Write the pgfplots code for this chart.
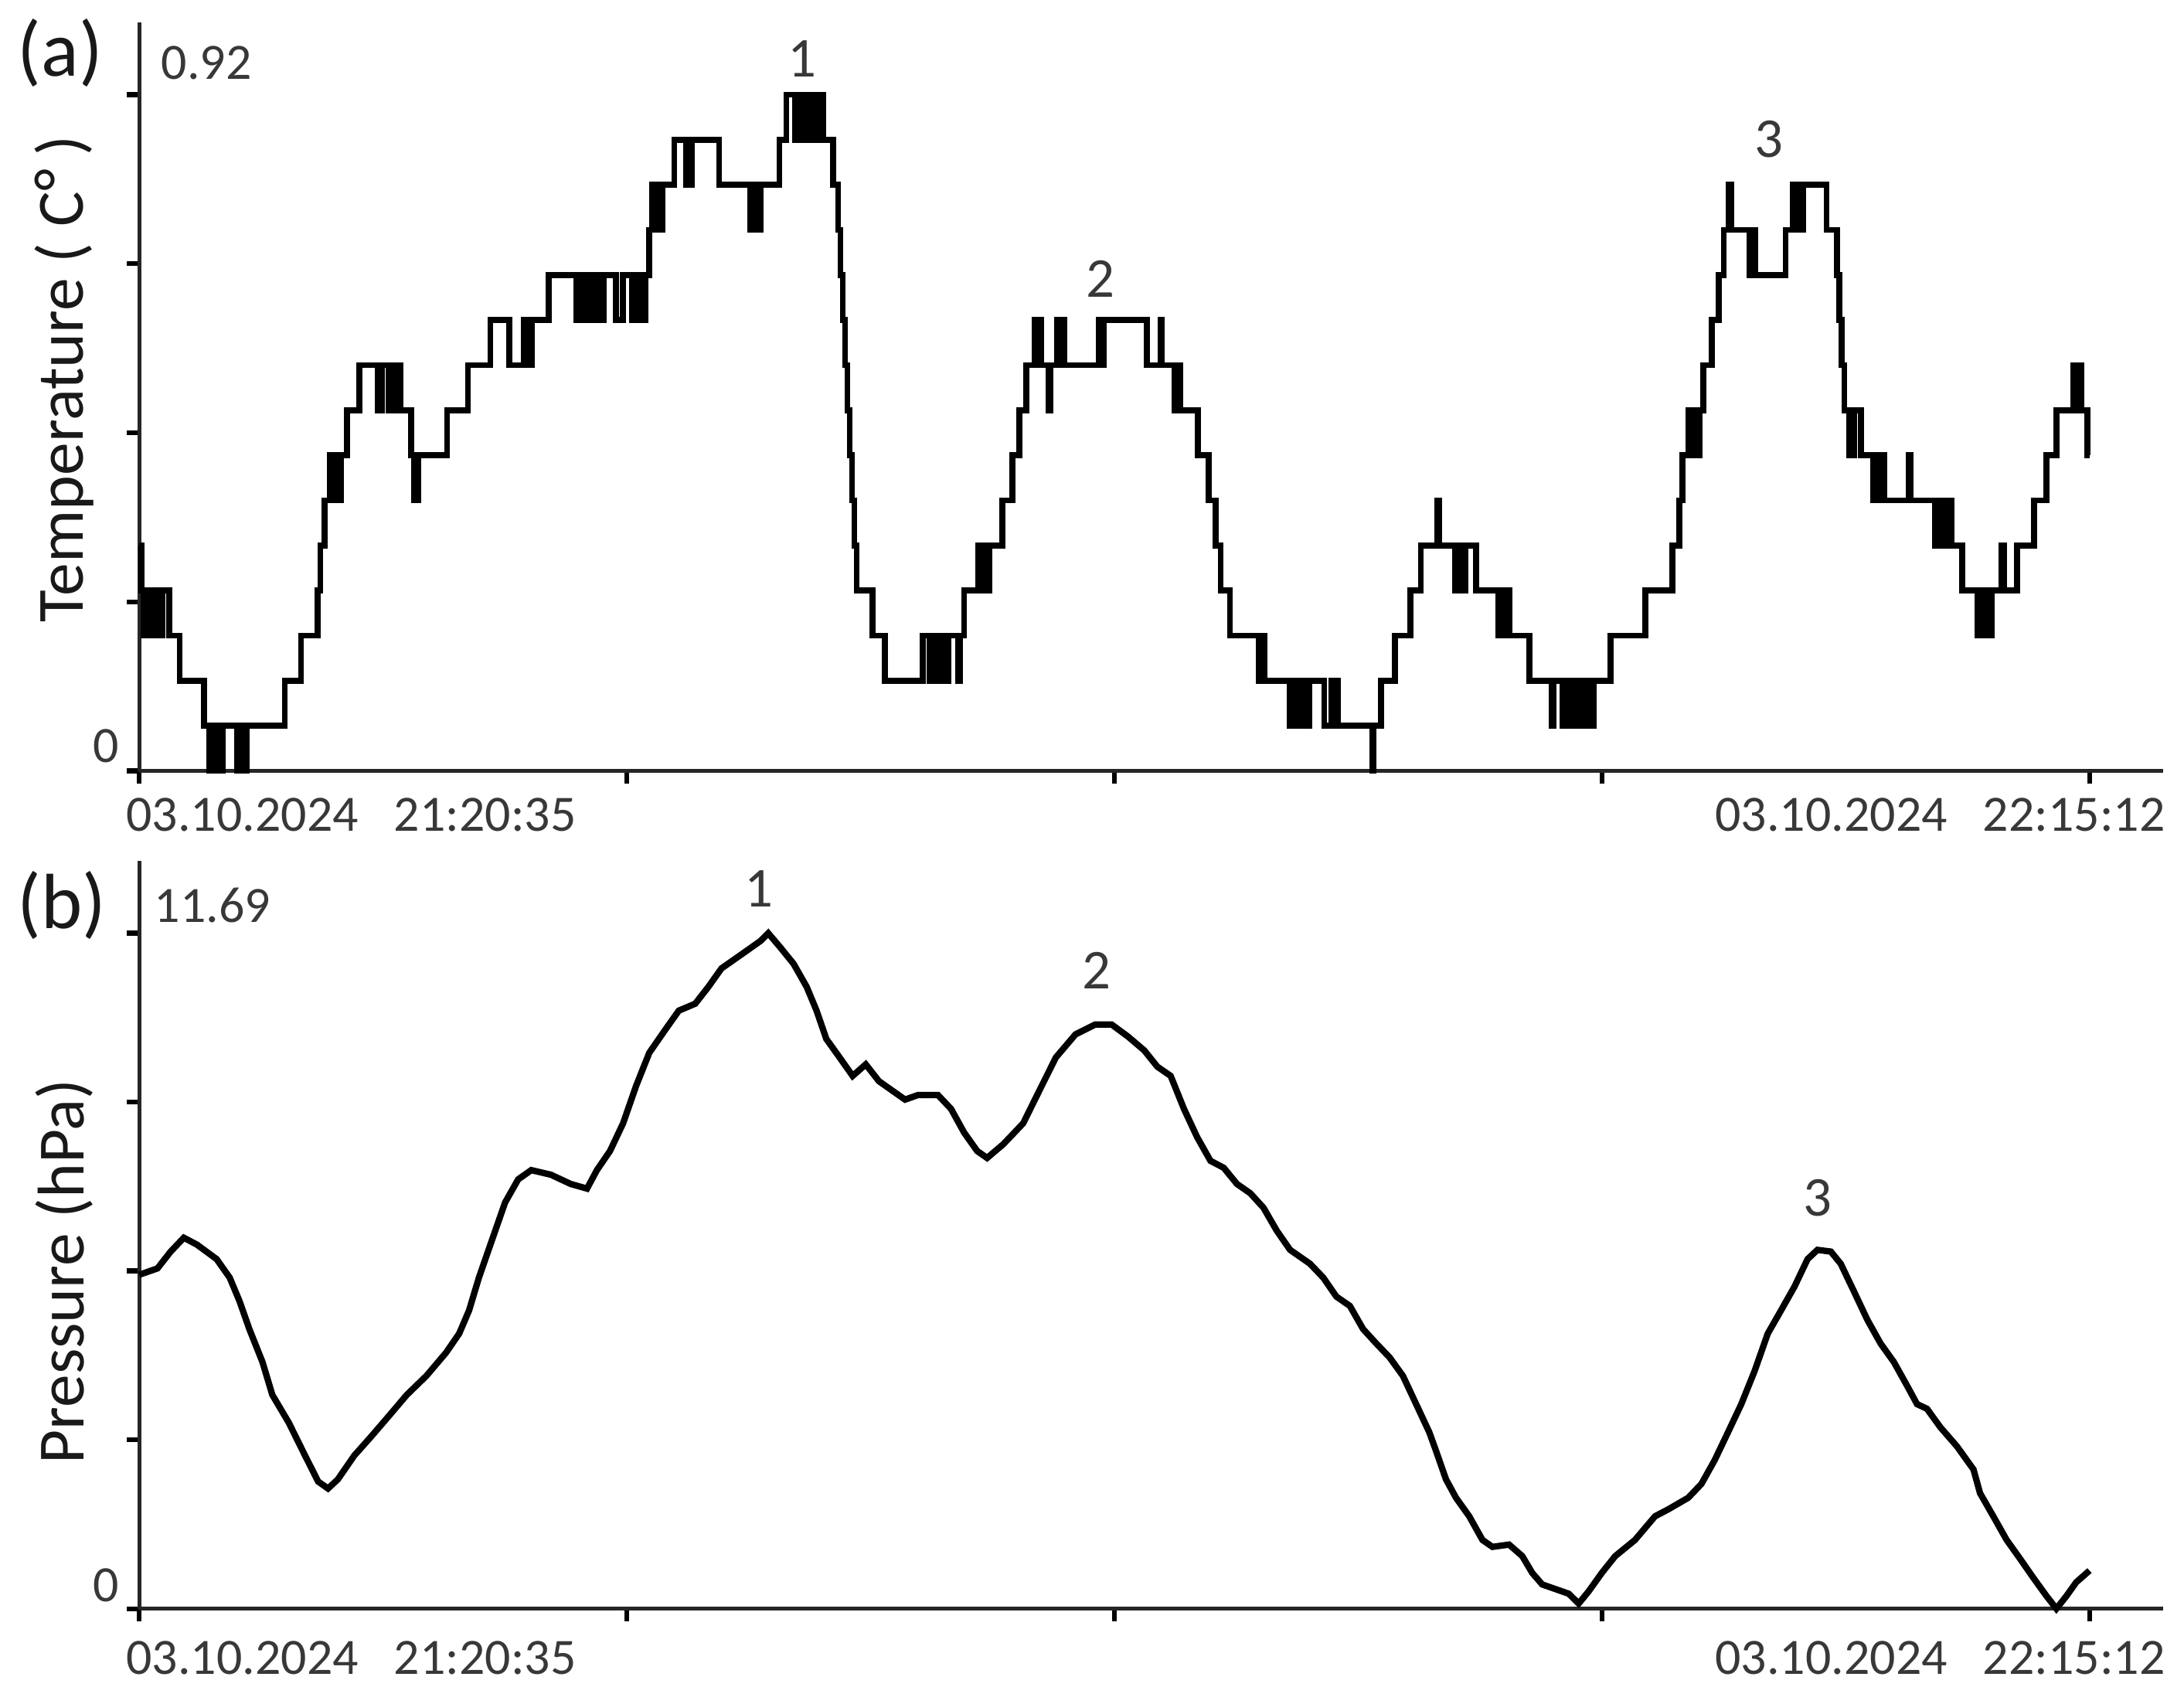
\documentclass[border=0pt]{standalone}
\usepackage{fontspec}
\setmainfont{Carlito}
\usepackage{pgfplots}
\pgfplotsset{compat=1.18}
\definecolor{txt}{gray}{0.22}

\pgfplotstableread{
u T
0.0000 0.3067
0.0043 0.2453
0.0086 0.1840
0.0143 0.2453
0.0200 0.1840
0.0257 0.2453
0.0314 0.1840
0.0371 0.2453
0.0414 0.1840
0.0474 0.2453
0.0614 0.1840
0.0829 0.1227
0.1323 0.0613
0.1429 0
0.1486 0.0613
0.1543 0
0.1600 0.0613
0.1657 0
0.1714 0.0613
0.2000 0
0.2057 0.0613
0.2114 0
0.2200 0.0613
0.2986 0.1227
0.3314 0.1840
0.3657 0.2453
0.3714 0.3067
0.3800 0.3680
0.3914 0.4293
0.3971 0.3680
0.4029 0.4293
0.4086 0.3680
0.4143 0.4293
0.4257 0.4907
0.4514 0.5520
0.4897 0.4907
0.4971 0.5520
0.5114 0.4907
0.5171 0.5520
0.5229 0.4907
0.5286 0.5520
0.5357 0.4907
0.5571 0.4293
0.5640 0.3680
0.5714 0.4293
0.6314 0.4907
0.6743 0.5520
0.7200 0.6133
0.7586 0.5520
0.7886 0.6133
0.7943 0.5520
0.8046 0.6133
0.8400 0.6747
0.8971 0.6133
0.9029 0.6747
0.9086 0.6133
0.9143 0.6747
0.9200 0.6133
0.9257 0.6747
0.9314 0.6133
0.9371 0.6747
0.9429 0.6133
0.9531 0.6747
0.9780 0.6133
0.9923 0.6747
1.0100 0.6133
1.0157 0.6747
1.0214 0.6133
1.0271 0.6747
1.0329 0.6133
1.0383 0.6747
1.0457 0.7360
1.0514 0.7973
1.0571 0.7360
1.0629 0.7973
1.0686 0.7360
1.0726 0.7973
1.0971 0.8587
1.1223 0.7973
1.1329 0.8587
1.1894 0.7973
1.2531 0.7360
1.2600 0.7973
1.2657 0.7360
1.2743 0.7973
1.3131 0.8587
1.3274 0.9200
1.3457 0.8587
1.3514 0.9200
1.3571 0.8587
1.3629 0.9200
1.3686 0.8587
1.3743 0.9200
1.3800 0.8587
1.3857 0.9200
1.3914 0.8587
1.3971 0.9200
1.4029 0.8587
1.4229 0.7973
1.4334 0.7360
1.4383 0.6747
1.4429 0.6133
1.4477 0.5520
1.4523 0.4907
1.4571 0.4293
1.4620 0.3680
1.4666 0.3067
1.4714 0.2453
1.5043 0.1840
1.5291 0.1227
1.6069 0.1840
1.6211 0.1227
1.6271 0.1840
1.6329 0.1227
1.6386 0.1840
1.6443 0.1227
1.6500 0.1840
1.6557 0.1227
1.6600 0.1840
1.6800 0.1227
1.6829 0.1840
1.6914 0.2453
1.7200 0.3067
1.7257 0.2453
1.7314 0.3067
1.7371 0.2453
1.7429 0.3067
1.7697 0.3680
1.7909 0.4293
1.8051 0.4907
1.8191 0.5520
1.8371 0.6133
1.8414 0.5520
1.8457 0.6133
1.8500 0.5520
1.8651 0.4907
1.8680 0.5520
1.8829 0.6133
1.8871 0.5520
1.8914 0.6133
1.8971 0.5520
1.9680 0.6133
1.9729 0.5520
1.9786 0.6133
2.0669 0.5520
2.0943 0.6133
2.0971 0.5520
2.1237 0.4907
2.1286 0.5520
2.1343 0.4907
2.1714 0.4293
2.1934 0.3680
2.2074 0.3067
2.2180 0.2453
2.2371 0.1840
2.2960 0.1227
2.3029 0.1840
2.3086 0.1227
2.3597 0.0613
2.3657 0.1227
2.3714 0.0613
2.3771 0.1227
2.3829 0.0613
2.3886 0.1227
2.3943 0.0613
2.4000 0.1227
2.4306 0.0613
2.4446 0.1227
2.4500 0.0613
2.4543 0.1227
2.4589 0.0613
2.5286 0
2.5314 0.0613
2.5471 0.1227
2.5754 0.1840
2.6074 0.2453
2.6286 0.3067
2.6629 0.3680
2.6657 0.3067
2.6994 0.2453
2.7057 0.3067
2.7114 0.2453
2.7206 0.3067
2.7417 0.2453
2.7877 0.1840
2.7929 0.2453
2.7986 0.1840
2.8043 0.2453
2.8100 0.1840
2.8514 0.1227
2.8971 0.0613
2.9000 0.1227
2.9189 0.0613
2.9246 0.1227
2.9303 0.0613
2.9360 0.1227
2.9417 0.0613
2.9474 0.1227
2.9531 0.0613
2.9589 0.1227
2.9646 0.0613
2.9703 0.1227
2.9760 0.0613
2.9826 0.1227
3.0177 0.1840
3.0886 0.2453
3.1443 0.3067
3.1583 0.3680
3.1654 0.4293
3.1771 0.4907
3.1829 0.4293
3.1886 0.4907
3.1943 0.4293
3.2000 0.4907
3.2074 0.5520
3.2251 0.6133
3.2391 0.6747
3.2497 0.7360
3.2603 0.7973
3.2657 0.7360
3.3026 0.6747
3.3086 0.7360
3.3143 0.6747
3.3766 0.7360
3.3906 0.7973
3.3963 0.7360
3.4020 0.7973
3.4077 0.7360
3.4134 0.7973
3.4609 0.7360
3.4820 0.6747
3.4871 0.6133
3.4914 0.5520
3.4971 0.4907
3.5066 0.4293
3.5171 0.4907
3.5314 0.4293
3.5560 0.3680
3.5617 0.4293
3.5674 0.3680
3.5731 0.4293
3.5789 0.3680
3.6297 0.4293
3.6326 0.3680
3.6826 0.3067
3.6883 0.3680
3.6940 0.3067
3.6997 0.3680
3.7054 0.3067
3.7111 0.3680
3.7169 0.3067
3.7389 0.2453
3.7706 0.1840
3.7763 0.2453
3.7820 0.1840
3.7877 0.2453
3.7934 0.1840
3.7986 0.2453
3.8197 0.3067
3.8243 0.2453
3.8514 0.3067
3.8866 0.3680
3.9114 0.4293
3.9323 0.4907
3.9674 0.5520
3.9714 0.4907
3.9771 0.5520
3.9829 0.4907
3.9957 0.4293
4.0000 0.4293
}\temptable

\pgfplotstableread{
u P
0.0000 5.78
0.0106 5.81
0.0374 5.89
0.0643 6.18
0.0914 6.42
0.1183 6.30
0.1586 6.05
0.1854 5.73
0.2057 5.32
0.2257 4.84
0.2526 4.27
0.2729 3.70
0.3066 3.22
0.3400 2.65
0.3669 2.20
0.3871 2.08
0.4074 2.24
0.4409 2.65
0.4746 2.97
0.5083 3.30
0.5486 3.70
0.5889 4.03
0.6291 4.43
0.6560 4.76
0.6763 5.16
0.6966 5.73
0.7234 6.38
0.7503 7.03
0.7771 7.43
0.8040 7.59
0.8443 7.51
0.8849 7.35
0.9183 7.27
0.9386 7.59
0.9654 7.92
0.9923 8.40
1.0191 9.05
1.0460 9.62
1.0797 10.03
1.1066 10.35
1.1403 10.47
1.1671 10.76
1.1940 11.08
1.2346 11.32
1.2749 11.56
1.2900 11.69
1.3151 11.44
1.3420 11.16
1.3689 10.76
1.3891 10.35
1.4091 9.86
1.4363 9.54
1.4631 9.22
1.4900 9.42
1.5169 9.13
1.5437 8.97
1.5706 8.81
1.5974 8.89
1.6380 8.89
1.6649 8.65
1.6917 8.24
1.7186 7.92
1.7389 7.80
1.7723 8.04
1.8129 8.40
1.8463 8.97
1.8800 9.54
1.9203 9.94
1.9606 10.11
1.9943 10.11
2.0280 9.90
2.0614 9.66
2.0880 9.38
2.1154 9.22
2.1426 8.65
2.1697 8.16
2.1971 7.75
2.2243 7.63
2.2514 7.35
2.2786 7.19
2.3057 6.94
2.3331 6.54
2.3603 6.21
2.4011 5.97
2.4283 5.73
2.4554 5.40
2.4829 5.24
2.5100 4.84
2.5371 4.59
2.5643 4.35
2.5917 4.03
2.6189 3.54
2.6460 3.05
2.6597 2.73
2.6800 2.24
2.7006 1.92
2.7277 1.60
2.7549 1.19
2.7754 1.07
2.8094 1.11
2.8366 0.91
2.8569 0.62
2.8774 0.42
2.9046 0.34
2.9317 0.26
2.9523 0.09
2.9726 0.30
2.9997 0.62
3.0271 0.91
3.0677 1.19
3.1089 1.60
3.1360 1.72
3.1769 1.92
3.2040 2.16
3.2311 2.57
3.2583 3.05
3.2857 3.54
3.3129 4.11
3.3400 4.76
3.3671 5.16
3.3946 5.57
3.4217 6.05
3.4420 6.21
3.4694 6.18
3.4897 5.97
3.5169 5.49
3.5443 5.00
3.5714 4.59
3.5986 4.27
3.6257 3.86
3.6463 3.54
3.6666 3.46
3.6940 3.14
3.7280 2.81
3.7620 2.41
3.7754 2.00
3.8026 1.60
3.8300 1.19
3.8571 0.87
3.8843 0.54
3.9117 0.22
3.9320 0.00
3.9526 0.22
3.9729 0.46
4.0000 0.66
}\prestable

\tikzset{
  ticklab/.style={font=\fontsize{10.4}{12}\selectfont, text=txt, inner sep=0pt},
  annot/.style={font=\fontsize{11.5}{13}\selectfont, text=txt, inner sep=0pt},
  panlab/.style={font=\fontsize{16}{18}\selectfont, text=black!90, inner sep=0pt, anchor=west},
  ylab/.style={font=\fontsize{13.5}{16}\selectfont, text=black!90, rotate=90, inner sep=0pt},
}
\pgfplotsset{
  panel/.style={
    scale only axis, width=14.53cm,
    xmin=0, xmax=4.151,
    axis x line=bottom, axis y line=left,
    axis line style={-, line width=0.8pt, black!85},
    xtick={0,1,2,3,4}, xticklabels={},
    tick align=outside, major tick length=0.9mm,
    tick style={line width=1pt, black},
    yticklabels={},
    clip=false,
  },
}

\begin{document}
\begin{tikzpicture}
\path (0,0) rectangle (15.68,-12.23);
% ---- panel (a)
\begin{axis}[panel, at={(1.00cm,-5.535cm)}, anchor=south west,
  height=5.375cm, ymin=0, ymax=1.0185, ytick={0,0.23,0.46,0.69,0.92}]
\addplot[const plot, line width=1.2pt, black] table[x=u, y=T] {\temptable};
\node[ticklab, anchor=base west] at (axis cs:0.043,0.9409) {0.92};
\node[ticklab, anchor=base east] at (axis cs:-0.04,0.0114) {0};
\node[ticklab, anchor=base west] at (axis cs:-0.0286,-0.0824) {03.10.2024\hspace{0.7em}21:20:35};
\node[ticklab, anchor=base east] at (axis cs:4.157,-0.0824) {03.10.2024\hspace{0.7em}22:15:12};
\node[panlab] at (axis cs:-0.2514,0.977) {(a)};
\node[ylab] at (axis cs:-0.154,0.533) {Temperature (\hspace{0.25em}C\raisebox{0.05em}{°}\hspace{0.2em})};
\node[annot] at (axis cs:1.36,0.969) {1};
\node[annot] at (axis cs:1.971,0.6696) {2};
\node[annot] at (axis cs:3.343,0.859) {3};
\end{axis}
% ---- panel (b)
\begin{axis}[panel, at={(1.00cm,-11.55cm)}, anchor=south west,
  height=5.37cm, ymin=0, ymax=12.943, ytick={0,2.9225,5.845,8.7675,11.69}]
\addplot[line width=1.3pt, black] table[x=u, y=P] {\prestable};
\node[ticklab, anchor=base west] at (axis cs:0.029,11.88) {11.69};
\node[ticklab, anchor=base east] at (axis cs:-0.04,0.12) {0};
\node[ticklab, anchor=base west] at (axis cs:-0.0286,-1.133) {03.10.2024\hspace{0.7em}21:20:35};
\node[ticklab, anchor=base east] at (axis cs:4.157,-1.133) {03.10.2024\hspace{0.7em}22:15:12};
\node[panlab] at (axis cs:-0.2514,12.17) {(b)};
\node[ylab] at (axis cs:-0.154,5.833) {Pressure (hPa)};
\node[annot] at (axis cs:1.271,12.46) {1};
\node[annot] at (axis cs:1.963,11.04) {2};
\node[annot] at (axis cs:3.443,7.11) {3};
\end{axis}
\end{tikzpicture}
\end{document}
